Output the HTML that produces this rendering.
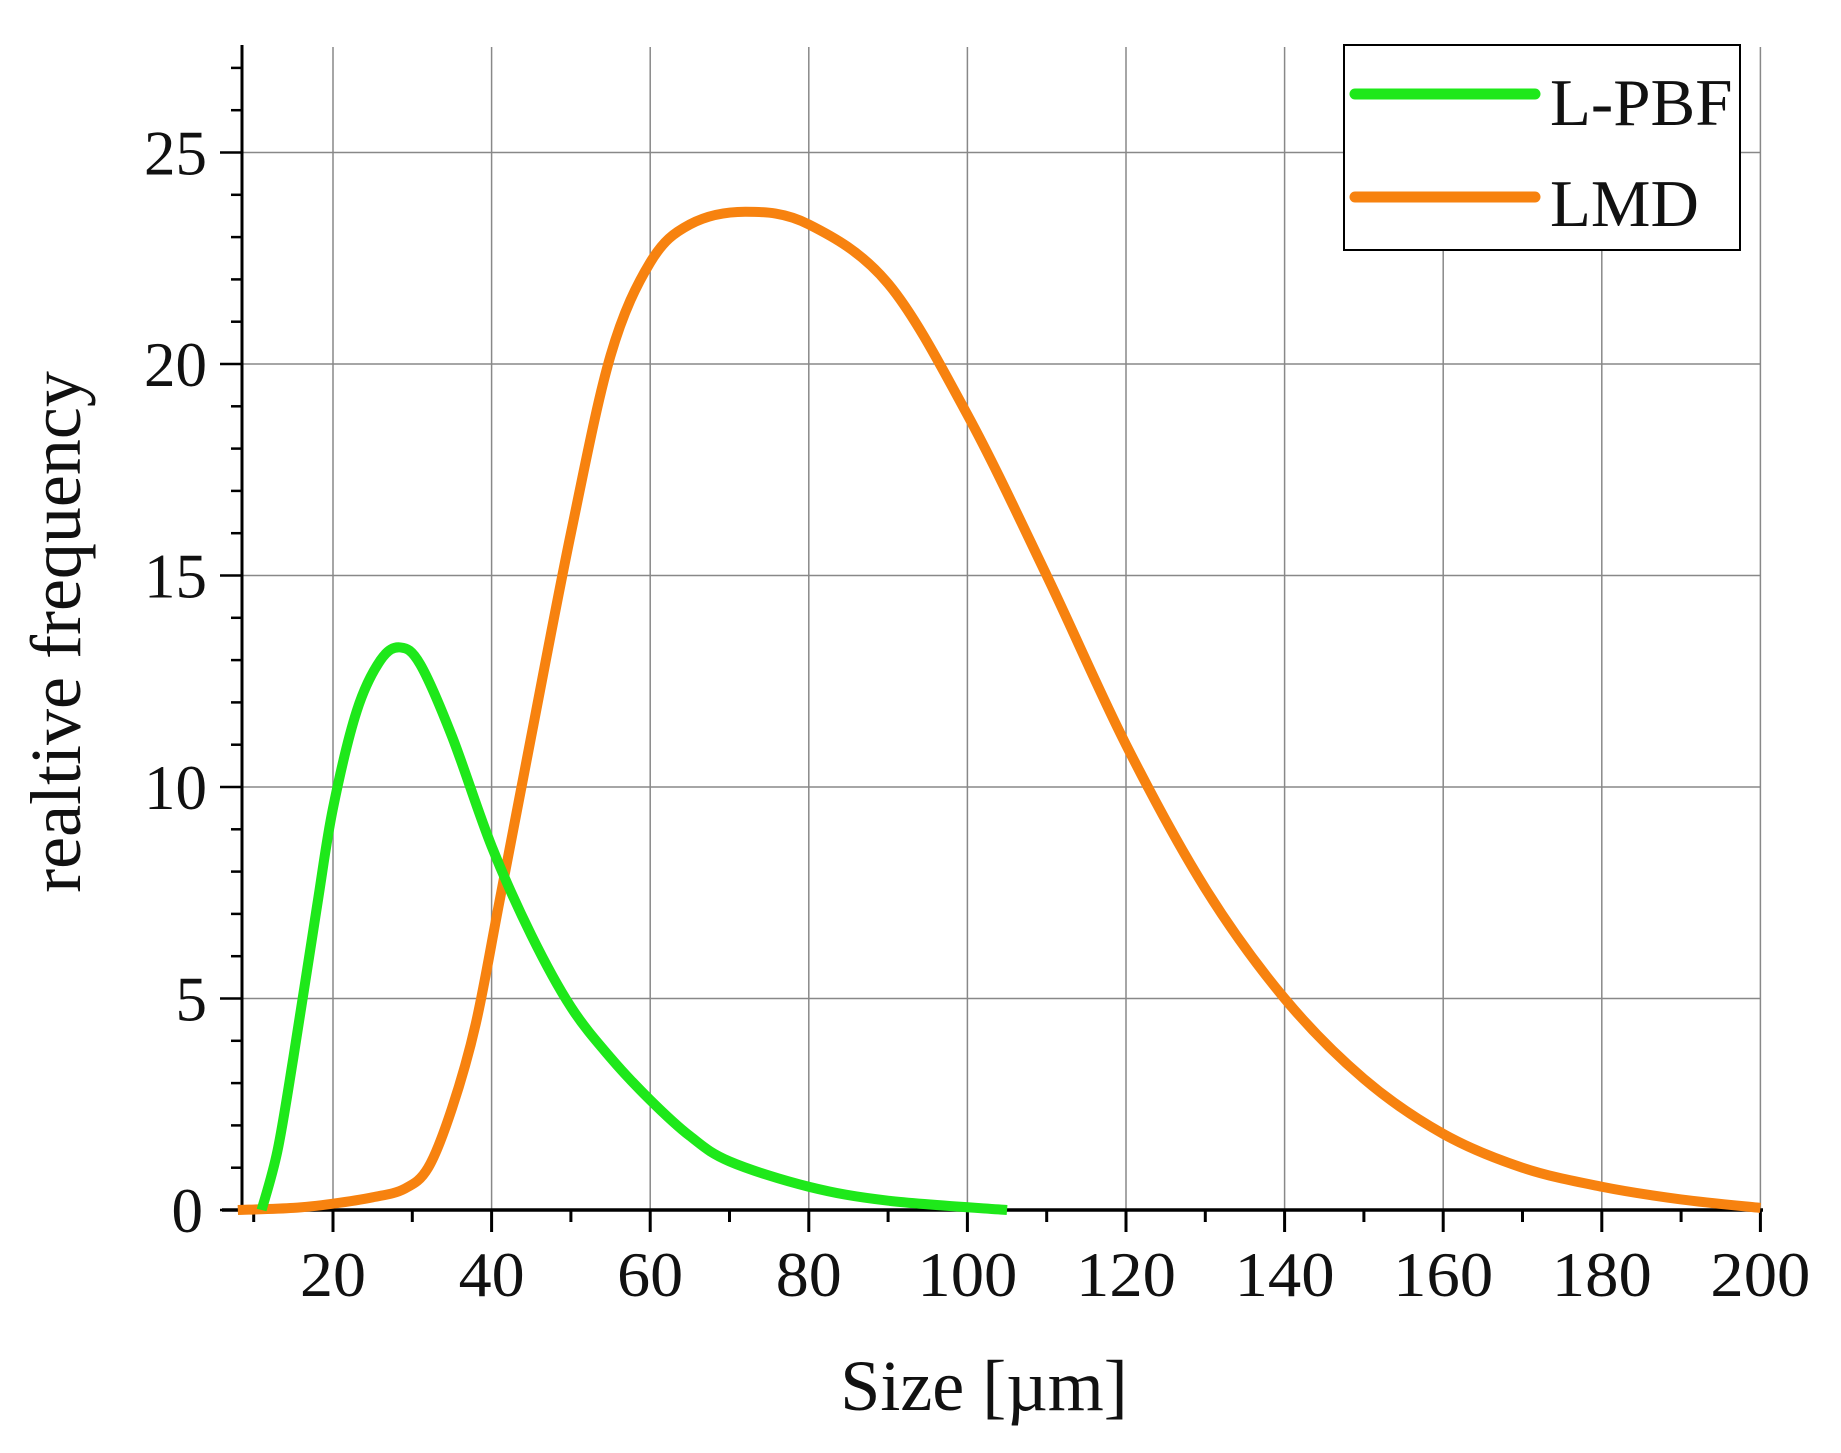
<!DOCTYPE html>
<html><head><meta charset="utf-8"><style>
html,body{margin:0;padding:0;background:#fff;}
svg text{font-family:"Liberation Serif",serif;fill:#111;}
</style></head><body>
<svg id="s" width="1841" height="1448" xmlns="http://www.w3.org/2000/svg"></svg>
<script>
const s=document.getElementById('s');
const X0=333,XS=7.93,Y0=1210,YS=42.3;
const fx=v=>X0+(v-20)*XS, fy=v=>Y0-v*YS;
let h='';
for(let v=20;v<=200;v+=20)h+=`<line x1="${fx(v)}" y1="47" x2="${fx(v)}" y2="${Y0}" stroke="#888" stroke-width="1.5"/>`;
for(let v=5;v<=25;v+=5)h+=`<line x1="242" y1="${fy(v)}" x2="1761" y2="${fy(v)}" stroke="#888" stroke-width="1.5"/>`;
h+=`<line x1="242" y1="45" x2="242" y2="${Y0+2}" stroke="#000" stroke-width="3"/>`;
h+=`<line x1="222" y1="${Y0}" x2="1763" y2="${Y0}" stroke="#000" stroke-width="3.5"/>`;
for(let v=10;v<=200;v+=10){const maj=v%20==0;h+=`<line x1="${fx(v)}" y1="${Y0}" x2="${fx(v)}" y2="${Y0+(maj?22:12)}" stroke="#000" stroke-width="3"/>`;
 if(maj)h+=`<text x="${fx(v)}" y="1296" font-size="63" text-anchor="middle" textLength="${v>=100?100:66}" lengthAdjust="spacingAndGlyphs">${v}</text>`;}
for(let v=0;v<=27;v++){const maj=v%5==0;h+=`<line x1="${242-(maj?22:11)}" y1="${fy(v)}" x2="242" y2="${fy(v)}" stroke="#000" stroke-width="2.5"/>`;
 if(maj)h+=`<text x="${v==0?203:207}" y="${fy(v)+22}" font-size="63" text-anchor="end">${v}</text>`;}
h+=`<text x="984" y="1410" font-size="72" text-anchor="middle">Size [µm]</text>`;
h+=`<text transform="translate(80,632) rotate(-90)" font-size="72" text-anchor="middle">realtive frequency</text>`;
function path(p){let d=`M${fx(p[0][0])},${fy(p[0][1])}`;
 for(let i=0;i<p.length-1;i++){const a=p[Math.max(i-1,0)],b=p[i],c=p[i+1],e=p[Math.min(i+2,p.length-1)];
  const P=q=>[fx(q[0]),fy(q[1])];const A=P(a),B=P(b),C=P(c),E=P(e);
  d+=` C${B[0]+(C[0]-A[0])/6},${B[1]+(C[1]-A[1])/6} ${C[0]-(E[0]-B[0])/6},${C[1]-(E[1]-B[1])/6} ${C[0]},${C[1]}`;}
 return d;}
const g=[[11,0],[13,1.4],[15,3.6],[18,7.2],[20,9.5],[23,11.8],[26,13],[28.5,13.3],[31,12.9],[35,11.2],[40,8.6],[45,6.5],[50,4.8],[55,3.6],[60,2.6],[65,1.75],[70,1.15],[80,0.55],[90,0.22],[105,0]];
const o=[[8,0],[15,0.05],[20,0.15],[25,0.3],[29,0.5],[32,1],[35,2.4],[38,4.4],[41,7.3],[45,11.2],[50,16],[55,20.2],[60,22.4],[65,23.3],[72,23.6],[80,23.3],[90,21.9],[100,18.8],[110,15],[120,11],[130,7.6],[140,5],[150,3.1],[160,1.8],[170,1.0],[180,0.55],[190,0.25],[200,0.05]];
h+=`<path d="${path(o)}" fill="none" stroke="#f7820f" stroke-width="10" stroke-linejoin="round"/>`;
h+=`<path d="${path(g)}" fill="none" stroke="#1ee81a" stroke-width="10" stroke-linejoin="round"/>`;
h+=`<rect x="1344" y="45" width="396" height="205" fill="#fff" stroke="#000" stroke-width="2"/>`;
h+=`<line x1="1355" y1="94" x2="1535" y2="94" stroke="#1ee81a" stroke-width="11" stroke-linecap="round"/>`;
h+=`<line x1="1355" y1="197" x2="1535" y2="197" stroke="#f7820f" stroke-width="11" stroke-linecap="round"/>`;
h+=`<text x="1550" y="125" font-size="67">L-PBF</text>`;
h+=`<text x="1550" y="226" font-size="67">LMD</text>`;
s.innerHTML=h;
</script>
</body></html>
